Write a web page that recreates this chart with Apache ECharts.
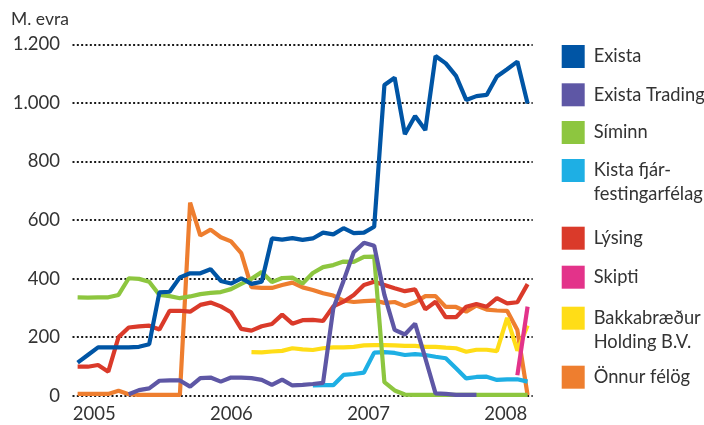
<!DOCTYPE html>
<html>
<head>
<meta charset="utf-8">
<script src="https://cdn.jsdelivr.net/npm/echarts@6/dist/echarts.min.js"></script>
<style>
  html, body { margin: 0; padding: 0; background: #ffffff; }
  #chart { width: 704px; height: 425px; }
</style>
</head>
<body>
<div id="chart"></div>
<script>
// ---- Data (M. evra) ----
const periods = ['1','2','3','4','5','6','7','8','9','10','11','12','13','14','15','16','17','18','19','20','21','22','23','24','25','26','27','28','29','30','31','32','33','34','35','36','37','38','39','40','41','42','43','44','45'];
const yearTicks = [2005, 2006, 2007, 2008];
const yTicks = [0, 200, 400, 600, 800, 1000, 1200];

const exista = [113,139,165,165,165,165,167,176,353,355,404,418,418,432,392,383,401,382,389,537,533,538,532,537,557,551,572,555,557,577,1061,1086,893,955,907,1160,1135,1092,1010,1023,1027,1090,1115,1141,998];
const existaTrading = [null,null,null,null,null,5,19,25,51,52,52,31,60,62,48,62,62,60,54,37,55,35,37,40,44,298,392,490,522,512,344,225,209,246,128,8,6,3,3,3,null,null,null,null,null];
const siminn = [336,335,336,336,344,401,399,389,344,340,333,339,347,351,354,364,382,399,422,388,402,403,383,419,439,446,458,457,474,475,46,18,4,3,3,3,3,3,3,3,3,3,3,3,3];
const kista = [null,null,null,null,null,null,null,null,null,null,null,null,null,null,null,null,null,null,null,null,null,null,null,35,36,36,71,74,79,147,149,146,139,142,139,133,128,94,59,64,65,54,56,56,48];
const lysing = [99,99,105,82,200,233,237,239,226,290,290,287,310,318,305,285,228,222,237,245,277,246,258,259,255,305,321,344,378,389,378,367,357,363,295,321,268,268,304,313,304,333,315,319,381];
const skipti = [null,null,null,null,null,null,null,null,null,null,null,null,null,null,null,null,null,null,null,null,null,null,null,null,null,null,null,null,null,null,null,null,null,null,null,null,null,null,null,null,null,null,null,70,304];
const bakka = [null,null,null,null,null,null,null,null,null,null,null,null,null,null,null,null,null,149,148,151,153,162,158,156,162,165,165,167,172,173,173,172,170,170,167,167,164,162,150,157,157,152,266,154,240];
const onnur = [6,6,6,6,17,5,3,3,3,3,3,659,547,567,541,527,487,371,368,368,378,386,370,361,350,342,325,320,323,325,317,320,306,319,340,340,303,303,287,308,294,291,290,224,2];

const names = ['Exista', 'Exista Trading', 'Síminn', 'Kista fjárfestingarfélag', 'Lýsing', 'Skipti', 'Bakkabræður Holding B.V.', 'Önnur félög'];
const legendLabels = ['Exista', 'Exista Trading', 'Síminn', 'Kista fjár-\nfestingarfélag', 'Lýsing', 'Skipti', 'Bakkabræður\nHolding B.V.', 'Önnur félög'];
const colors = ['#0055A5', '#5E57A5', '#8DC63F', '#1EAFE4', '#DA3A2A', '#E3338A', '#FFDD17', '#EE7E2F'];
const values = [exista, existaTrading, siminn, kista, lysing, skipti, bakka, onnur];

const FONT = 'Lato, "Open Sans", sans-serif';
const TEXT = '#333333';
const LEGEND_SIZE = 18.3;

// series drawn with Exista last (on top)
const drawOrder = [7, 6, 5, 4, 3, 2, 1, 0];
const series = drawOrder.map(function (k) {
  return {
    name: names[k],
    type: 'line',
    data: values[k],
    xAxisIndex: 0,
    yAxisIndex: 0,
    showSymbol: false,
    symbol: 'none',
    connectNulls: false,
    color: colors[k],
    lineStyle: { width: 4.2, color: colors[k] },
    animation: false
  };
});

// one legend per entry so each can be placed like the original
const legendTops = [45, 83.3, 121, 134.5, 226.7, 265.7, 282.2, 365.7];
const legends = names.map(function (n, k) {
  const lines = legendLabels[k].split('\n');
  const twoLine = lines.length > 1;
  return {
    data: [n],
    orient: 'vertical',
    left: 561.7,
    top: legendTops[k],
    padding: 0,
    icon: 'rect',
    itemWidth: 23,
    itemHeight: 23,
    selectedMode: false,
    formatter: function () {
      return twoLine ? lines.map(function (s) { return '{t|' + s + '}'; }).join('\n') : legendLabels[k];
    },
    textStyle: {
      fontFamily: FONT,
      fontSize: LEGEND_SIZE,
      color: TEXT,
      lineHeight: twoLine ? 24 : 23,
      padding: twoLine ? [24, 0, 0, 4] : [0, 0, 0, 4],
      rich: {
        t: { fontFamily: FONT, fontSize: LEGEND_SIZE, color: TEXT, lineHeight: 24 }
      }
    }
  };
});

const chart = echarts.init(document.getElementById('chart'), null, { renderer: 'canvas' });
chart.setOption({
  animation: false,
  backgroundColor: '#ffffff',
  title: {
    text: 'M. evra',
    left: 11,
    top: 10.5,
    padding: 0,
    textStyle: { fontFamily: FONT, fontSize: 17.5, fontWeight: 'normal', color: TEXT }
  },
  legend: legends,
  grid: { left: 72.5, right: 171.3, top: 44.3, bottom: 29.3, containLabel: false },
  xAxis: [
    {
      type: 'category',
      data: periods,
      boundaryGap: true,
      axisLine: { show: false },
      axisTick: { show: false },
      axisLabel: { show: false },
      splitLine: { show: false }
    },
    {
      type: 'value',
      position: 'bottom',
      min: 2004.842,
      max: 2008.196,
      axisLine: { show: false },
      axisTick: { show: false },
      splitLine: { show: false },
      axisLabel: {
        customValues: yearTicks,
        margin: 9,
        fontFamily: FONT,
        fontSize: 18.5,
        color: TEXT,
        formatter: function (v) { return String(Math.round(v)); }
      }
    }
  ],
  yAxis: {
    type: 'value',
    min: yTicks[0],
    max: yTicks[yTicks.length - 1],
    interval: 200,
    axisLine: { show: false },
    axisTick: { show: false },
    axisLabel: {
      margin: 12.5,
      fontFamily: FONT,
      fontSize: 18.5,
      color: TEXT,
      formatter: function (v) { return String(v).replace(/\B(?=(\d{3})+(?!\d))/g, '.'); }
    },
    splitLine: {
      show: true,
      lineStyle: { color: '#1a1a1a', width: 2, type: [2, 2.33] }
    }
  },
  series: series
});
</script>
</body>
</html>
